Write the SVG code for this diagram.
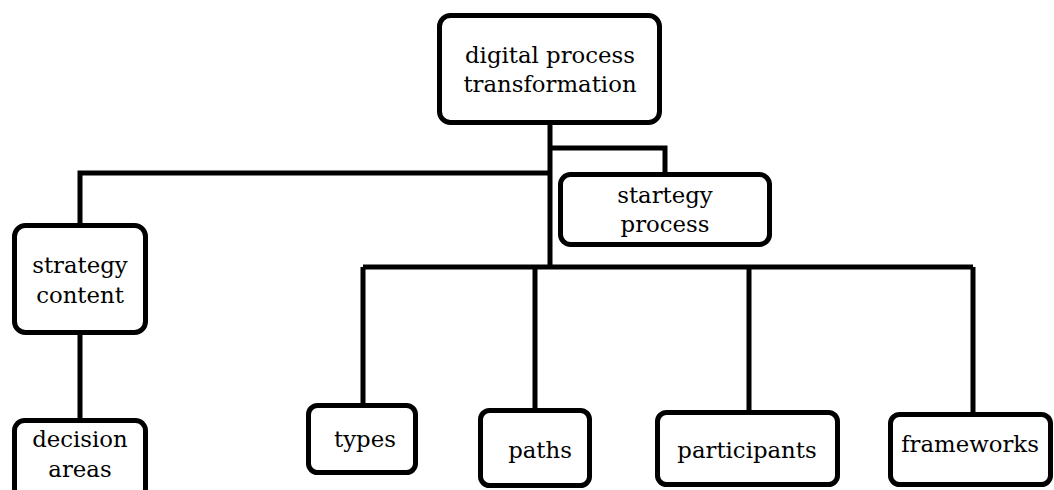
<svg xmlns="http://www.w3.org/2000/svg" width="1054" height="490" viewBox="0 0 1054 490">
<style>
.box{fill:#fff;stroke:#000;stroke-width:5}
.con{fill:none;stroke:#000;stroke-width:5;stroke-linejoin:miter}
.t{font-family:'DejaVu Serif','Liberation Serif',serif;font-size:22.8px;fill:#000;text-anchor:middle}
</style>
<rect width="1054" height="490" fill="#fff"/>
<g id="connectors">
<path class="con" d="M550 124 V267"/>
<path class="con" d="M550 148 H665 V174"/>
<path class="con" d="M550 173 H80 V225"/>
<path class="con" d="M80 334 V420"/>
<path class="con" d="M363 267 H973"/>
<path class="con" d="M363 267 V405"/>
<path class="con" d="M535 267 V410"/>
<path class="con" d="M749 267 V412"/>
<path class="con" d="M973 267 V414"/>
</g>
<g class="t">
<g id="node-top">
<rect class="box" x="439.5" y="15.5" width="220" height="107" rx="11"/>
<text x="550" y="63">digital process</text>
<text x="550" y="92">transformation</text>
</g>
<g id="node-strategy-process">
<rect class="box" x="560.5" y="174.5" width="209" height="70" rx="10"/>
<text x="665" y="203">startegy</text>
<text x="665" y="232">process</text>
</g>
<g id="node-strategy-content">
<rect class="box" x="14.5" y="225.5" width="131" height="107" rx="11"/>
<text x="80" y="273">strategy</text>
<text x="80" y="303">content</text>
</g>
<g id="node-decision-areas">
<rect class="box" x="14.5" y="420.5" width="131" height="90" rx="10"/>
<text x="80" y="447">decision</text>
<text x="80" y="477">areas</text>
</g>
<g id="node-types">
<rect class="box" x="308.5" y="405.5" width="107" height="67" rx="9"/>
<text x="365" y="447">types</text>
</g>
<g id="node-paths">
<rect class="box" x="480.5" y="410.5" width="109" height="75" rx="9"/>
<text x="540" y="458">paths</text>
</g>
<g id="node-participants">
<rect class="box" x="657.5" y="412.5" width="180" height="72" rx="9"/>
<text x="747" y="458">participants</text>
</g>
<g id="node-frameworks">
<rect class="box" x="890.5" y="414.5" width="160" height="70" rx="9"/>
<text x="970" y="452">frameworks</text>
</g>
</g>
</svg>
